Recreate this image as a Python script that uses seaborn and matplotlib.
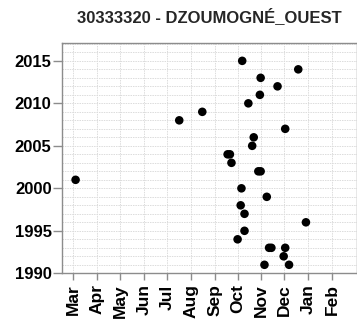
import numpy as np
import pandas as pd
import matplotlib
matplotlib.use("Agg")
import matplotlib.pyplot as plt
import seaborn as sns

# Annual peak events: year and date (month-day) of occurrence
years = [2015, 2014, 2013, 2012, 2011, 2010, 2009, 2008, 2007, 2006, 2005,
         2004, 2004, 2003, 2002, 2002, 2001, 2000, 1999, 1998, 1997, 1996,
         1995, 1994, 1993, 1993, 1993, 1992, 1991, 1991]
dates = ["10-07", "12-19", "10-31", "11-22", "10-30", "10-15", "08-16", "07-17",
         "12-02", "10-22", "10-20", "09-18", "09-21", "09-23", "10-28", "10-31",
         "03-04", "10-06", "11-08", "10-05", "10-10", "12-29", "10-10", "10-01",
         "11-11", "11-14", "12-02", "11-30", "11-05", "12-07"]
month_labels = ["Mar", "Apr", "May", "Jun", "Jul", "Aug", "Sep", "Oct",
                "Nov", "Dec", "Jan", "Feb"]
title = "30333320 - DZOUMOGNÉ_OUEST"

# Day offsets of each month start within a March-to-February year
month_len = [31, 30, 31, 30, 31, 31, 30, 31, 30, 31, 31, 28]
month_start = np.concatenate([[0], np.cumsum(month_len)[:-1]])
month_order = [3, 4, 5, 6, 7, 8, 9, 10, 11, 12, 1, 2]


def hydro_day(md):
    m, d = (int(v) for v in md.split("-"))
    return month_start[month_order.index(m)] + d - 1


df = pd.DataFrame({"year": years, "day": [hydro_day(s) for s in dates]})

sns.set_style("white")
plt.rcParams["font.family"] = ["Liberation Sans", "DejaVu Sans"]

fig = plt.figure(figsize=(3.57, 3.25), dpi=100)
ax = fig.add_axes([62 / 357, 1 - 273.3 / 325, 1 - 62 / 357, (273.3 - 43) / 325])

sns.scatterplot(data=df, x="day", y="year", ax=ax, color="black",
                s=38, edgecolor="none", zorder=3, legend=False)

ax.set_xlim(-14.7, 369.5)
ax.set_ylim(1990, 2017.1)

ax.set_xticks(month_start)
ax.set_xticklabels(month_labels, rotation=90, fontweight="bold", fontsize=12.5)
ax.set_yticks(np.arange(1990, 2016, 5))
ax.set_yticks(np.arange(1990, 2018, 1), minor=True)
ax.set_yticklabels([str(y) for y in range(1990, 2016, 5)],
                   fontweight="bold", fontsize=12)

grid_kw = dict(color="#dcdcdc", linestyle=(0, (1.5, 1)), linewidth=0.7)
ax.grid(True, axis="x", which="major", **grid_kw)
ax.grid(True, axis="y", which="both", **grid_kw)
ax.set_axisbelow(True)

for side in ["left", "bottom", "top", "right"]:
    ax.spines[side].set_color("#8c8c8c")
    ax.spines[side].set_linewidth(1.0)

ax.tick_params(axis="x", which="major", length=5, width=1.0,
               color="#8c8c8c", pad=3, labelcolor="black")
ax.tick_params(axis="y", which="major", length=6.5, width=1.0,
               color="#8c8c8c", pad=1, labelcolor="black")
ax.tick_params(axis="y", which="minor", length=0)
ax.tick_params(left=True, bottom=True)

ax.set_xlabel("")
ax.set_ylabel("")
fig.text((62 + 357) / 2 / 357, 1 - 17 / 325, title, ha="center", va="center",
         fontsize=12, fontweight="bold")

fig.savefig("out.png", dpi=100)
